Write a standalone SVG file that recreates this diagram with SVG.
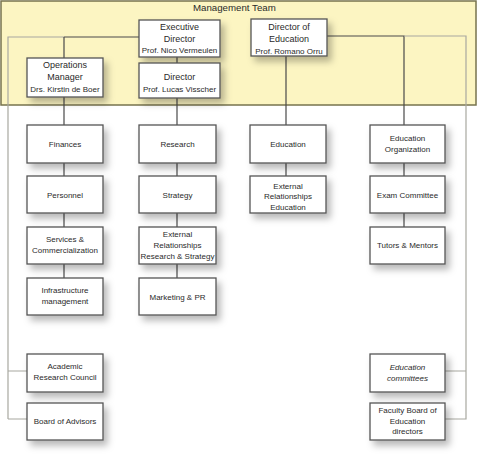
<svg xmlns="http://www.w3.org/2000/svg" width="477" height="459" viewBox="0 0 477 459">
<defs>
<filter id="sh" x="-20%" y="-20%" width="160%" height="180%">
<feDropShadow dx="4" dy="5" stdDeviation="3.5" flood-color="#000" flood-opacity="0.28"/>
</filter>
<style>
.box{fill:#fff;stroke:#555;stroke-width:1.3;filter:url(#sh)}
.mbox{fill:#fcf5c2;stroke:#77734e;stroke-width:1.5}
.dk{stroke:#4a4a4a;stroke-width:1.2;fill:none}
.lt{stroke:#a8a8a0;stroke-width:1.2;fill:none}
text{font-family:"Liberation Sans",Arial,sans-serif;font-size:8px;fill:#2a2a2a;text-anchor:middle}
.h{font-size:9px}
.it{font-style:italic}
.mt{font-size:9.7px;text-anchor:start}
</style>
</defs>
<rect width="477" height="459" fill="#fff"/>
<g id="management-team">
<rect class="mbox" x="1" y="1" width="475" height="104"/>
<text class="mt" x="193" y="11">Management Team</text>
</g>
<g id="connectors">
<path class="lt" d="M8,419 V37 H64"/>
<path class="lt" d="M8,371 H27 M8,419 H27"/>
<path class="dk" d="M64,37 H139 M64,37 V58"/>
<path class="dk" d="M64,97 V125 M64,163 V176 M64,213 V227 M64,264 V278"/>
<path class="dk" d="M177,57 V63 M177,98 V125 M177,163 V176 M177,213 V227 M177,264 V278"/>
<path class="dk" d="M286,56 V125 M286,163 V176"/>
<path class="dk" d="M327,36 H404 V125 M404,163 V176 M404,213 V227"/>
<path class="lt" d="M404,36 H466 V419 H445 M466,371 H445"/>
</g>
<g id="executive-director">
<rect class="box" x="139" y="20" width="81" height="37"/>
<text class="h" x="179.5" y="30">Executive</text>
<text class="h" x="179.5" y="42">Director</text>
<text x="179.5" y="53">Prof. Nico Vermeulen</text>
</g>
<g id="director">
<rect class="box" x="139" y="63" width="81" height="35"/>
<text class="h" x="179.5" y="80">Director</text>
<text x="179.5" y="92">Prof. Lucas Visscher</text>
</g>
<g id="operations-manager">
<rect class="box" x="27" y="58" width="76" height="39"/>
<text class="h" x="65" y="68">Operations</text>
<text class="h" x="65" y="80">Manager</text>
<text x="65" y="92">Drs. Kirstin de Boer</text>
</g>
<g id="director-of-education">
<rect class="box" x="251" y="19" width="76" height="37"/>
<text class="h" x="289" y="30">Director of</text>
<text class="h" x="289" y="42">Education</text>
<text x="289" y="54">Prof. Romano Orru</text>
</g>
<g id="finances">
<rect class="box" x="27" y="125" width="76" height="38"/>
<text x="65" y="147">Finances</text>
</g>
<g id="personnel">
<rect class="box" x="27" y="176" width="76" height="37"/>
<text x="65" y="198">Personnel</text>
</g>
<g id="services">
<rect class="box" x="27" y="227" width="76" height="37"/>
<text x="65" y="242">Services &amp;</text>
<text x="65" y="253">Commercialization</text>
</g>
<g id="infrastructure">
<rect class="box" x="27" y="278" width="76" height="37"/>
<text x="65" y="293">Infrastructure</text>
<text x="65" y="304">management</text>
</g>
<g id="research">
<rect class="box" x="139" y="125" width="77" height="38"/>
<text x="177.5" y="147">Research</text>
</g>
<g id="strategy">
<rect class="box" x="139" y="176" width="77" height="37"/>
<text x="177.5" y="198">Strategy</text>
</g>
<g id="external-relationships-rs">
<rect class="box" x="139" y="227" width="77" height="37"/>
<text x="177.5" y="237">External</text>
<text x="177.5" y="248">Relationships</text>
<text x="177.5" y="259">Research &amp; Strategy</text>
</g>
<g id="marketing">
<rect class="box" x="139" y="278" width="77" height="37"/>
<text x="177.5" y="300">Marketing &amp; PR</text>
</g>
<g id="education">
<rect class="box" x="250" y="125" width="76" height="38"/>
<text x="288" y="147">Education</text>
</g>
<g id="external-relationships-ed">
<rect class="box" x="250" y="176" width="76" height="37"/>
<text x="288" y="189">External</text>
<text x="288" y="199">Relationships</text>
<text x="288" y="210">Education</text>
</g>
<g id="education-organization">
<rect class="box" x="370" y="125" width="75" height="38"/>
<text x="407.5" y="141">Education</text>
<text x="407.5" y="152">Organization</text>
</g>
<g id="exam-committee">
<rect class="box" x="370" y="176" width="75" height="37"/>
<text x="407.5" y="198">Exam Committee</text>
</g>
<g id="tutors-mentors">
<rect class="box" x="370" y="227" width="75" height="37"/>
<text x="407.5" y="248">Tutors &amp; Mentors</text>
</g>
<g id="academic-research-council">
<rect class="box" x="27" y="354" width="76" height="38"/>
<text x="65" y="369">Academic</text>
<text x="65" y="380">Research Council</text>
</g>
<g id="board-of-advisors">
<rect class="box" x="27" y="403" width="76" height="37"/>
<text x="65" y="424">Board of Advisors</text>
</g>
<g id="education-committees">
<rect class="box" x="370" y="354" width="75" height="38"/>
<text class="it" x="407.5" y="370">Education</text>
<text class="it" x="407.5" y="381">committees</text>
</g>
<g id="faculty-board">
<rect class="box" x="370" y="403" width="75" height="37"/>
<text x="407.5" y="413">Faculty Board of</text>
<text x="407.5" y="424">Education</text>
<text x="407.5" y="434">directors</text>
</g>
</svg>
